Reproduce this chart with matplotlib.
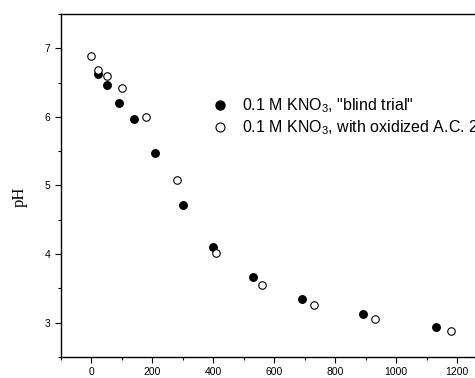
import matplotlib
matplotlib.use("Agg")
import matplotlib.pyplot as plt
from matplotlib.ticker import MultipleLocator

plt.rcParams["font.family"] = ["Liberation Sans", "DejaVu Sans"]
plt.rcParams["mathtext.fontset"] = "custom"
plt.rcParams["mathtext.rm"] = "Liberation Sans"
plt.rcParams["mathtext.it"] = "Liberation Sans:italic"

# blind trial (filled) and with oxidized A.C. (open): time vs pH
blind_x = [20, 50, 90, 140, 210, 300, 400, 530, 690, 890, 1130]
blind_ph = [6.63, 6.46, 6.20, 5.97, 5.48, 4.72, 4.10, 3.66, 3.35, 3.13, 2.94]
ac_x = [0, 20, 50, 100, 180, 280, 410, 560, 730, 930, 1180]
ac_ph = [6.89, 6.69, 6.59, 6.42, 6.00, 5.08, 4.01, 3.55, 3.26, 3.05, 2.88]

labels = ['0.1 M KNO$_3$, "blind trial"',
          "0.1 M KNO$_3$, with oxidized A.C. 2"]

fig = plt.figure(figsize=(4.75, 3.78), dpi=100)
ax = fig.add_axes([61 / 475, 21 / 378, 1 - 61 / 475, 343 / 378])

ax.plot(blind_x, blind_ph, "o", color="black", ms=5.4, mec="black",
        label=labels[0])
ax.plot(ac_x, ac_ph, "o", mfc="white", mec="black", mew=0.8, ms=5.4,
        label=labels[1])

ax.set_xlim(-100, 1259)
ax.set_ylim(2.5, 7.5)
ax.xaxis.set_major_locator(MultipleLocator(200))
ax.xaxis.set_minor_locator(MultipleLocator(100))
ax.yaxis.set_major_locator(MultipleLocator(1))
ax.yaxis.set_minor_locator(MultipleLocator(0.5))
ax.tick_params(which="major", length=4.5, width=0.8, labelsize=7.5, pad=3)
ax.tick_params(which="minor", length=2.5, width=0.8)
ax.spines["right"].set_visible(False)
for s in ("left", "bottom", "top"):
    ax.spines[s].set_linewidth(1.0)

fig.text(20 / 475, 1 - 197 / 378, "pH", rotation=90, ha="center",
         va="center", fontsize=12, family=["Liberation Serif"])

ax.legend(loc="center left", bbox_to_anchor=(0.365, 0.70), frameon=False,
          fontsize=11.5, handletextpad=0.85, labelspacing=0.2,
          markerscale=1.2, handlelength=1.0, borderaxespad=0,
          borderpad=0)

fig.savefig("out.png", dpi=100)
